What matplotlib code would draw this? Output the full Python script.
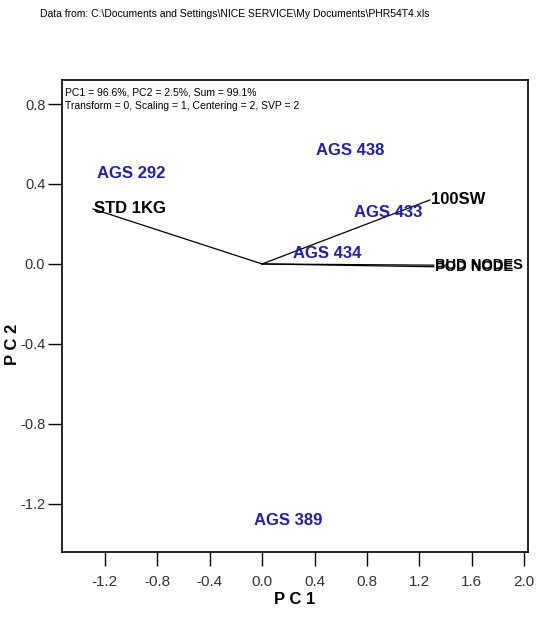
import matplotlib.pyplot as plt

# Biplot coordinates (PC1, PC2)
genotypes = ["AGS 292", "AGS 438", "AGS 433", "AGS 434", "AGS 389"]
geno_pc1 = [-1.00, 0.67, 0.96, 0.50, 0.20]
geno_pc2 = [0.45, 0.565, 0.255, 0.05, -1.285]

traits = ["STD 1KG", "100SW", "BUD NODES", "POD NODE"]
trait_pc1 = [-1.29, 1.28, 1.31, 1.31]
trait_pc2 = [0.275, 0.32, -0.006, -0.014]

xticks = [-1.2, -0.8, -0.4, 0.0, 0.4, 0.8, 1.2, 1.6, 2.0]
yticks = [0.8, 0.4, 0.0, -0.4, -0.8, -1.2]

plt.rcParams['font.family'] = ["Liberation Sans", "DejaVu Sans"]

fig = plt.figure(figsize=(5.37, 6.30), dpi=100)
ax = fig.add_axes([0.1155, 0.124, 0.868, 0.749])

fig.text(0.074, 0.978, r"Data from: C:\Documents and Settings\NICE SERVICE\My Documents\PHR54T4.xls",
         fontsize=7.5, va="center", ha="left")

# trait vectors from the origin
for x, y in zip(trait_pc1, trait_pc2):
    ax.plot([0, x], [0, y], color="black", lw=0.9)
for name, x, y in zip(traits, trait_pc1, trait_pc2):
    size = 10.5 if len(name) > 7 else 12
    ax.text(x + 0.01, y, name, color="black", fontsize=size, fontweight="bold",
            ha="left", va="center")

for name, x, y in zip(genotypes, geno_pc1, geno_pc2):
    ax.text(x, y, name, color="#2020b0", fontsize=12, fontweight="bold",
            ha="center", va="center")

ax.text(0.006, 0.985, "PC1 = 96.6%, PC2 = 2.5%, Sum = 99.1%\nTransform = 0, Scaling = 1, Centering = 2, SVP = 2",
        transform=ax.transAxes, fontsize=7.5, ha="left", va="top", linespacing=1.5)

ax.set_xlim(-1.527, 2.03)
ax.set_ylim(-1.44, 0.92)
ax.set_xticks(xticks)
ax.set_xticklabels([f"{t:.1f}" for t in xticks])
ax.set_yticks(yticks)
ax.set_yticklabels([f"{t:.1f}" for t in yticks])
ax.tick_params(axis="x", direction="out", length=10, width=1, labelsize=11, pad=7,
               labelcolor="#333333")
ax.tick_params(axis="y", direction="out", length=10, width=1, labelsize=10.5, pad=2,
               labelcolor="#333333")
for s in ax.spines.values():
    s.set_linewidth(1.2)

ax.set_xlabel("P C 1", fontsize=12, fontweight="bold")
ax.set_ylabel("P C 2", fontsize=12, fontweight="bold")
ax.xaxis.set_label_coords(0.5, -0.085)
ax.yaxis.set_label_coords(-0.09, 0.44)

fig.savefig("out.png", dpi=100)
